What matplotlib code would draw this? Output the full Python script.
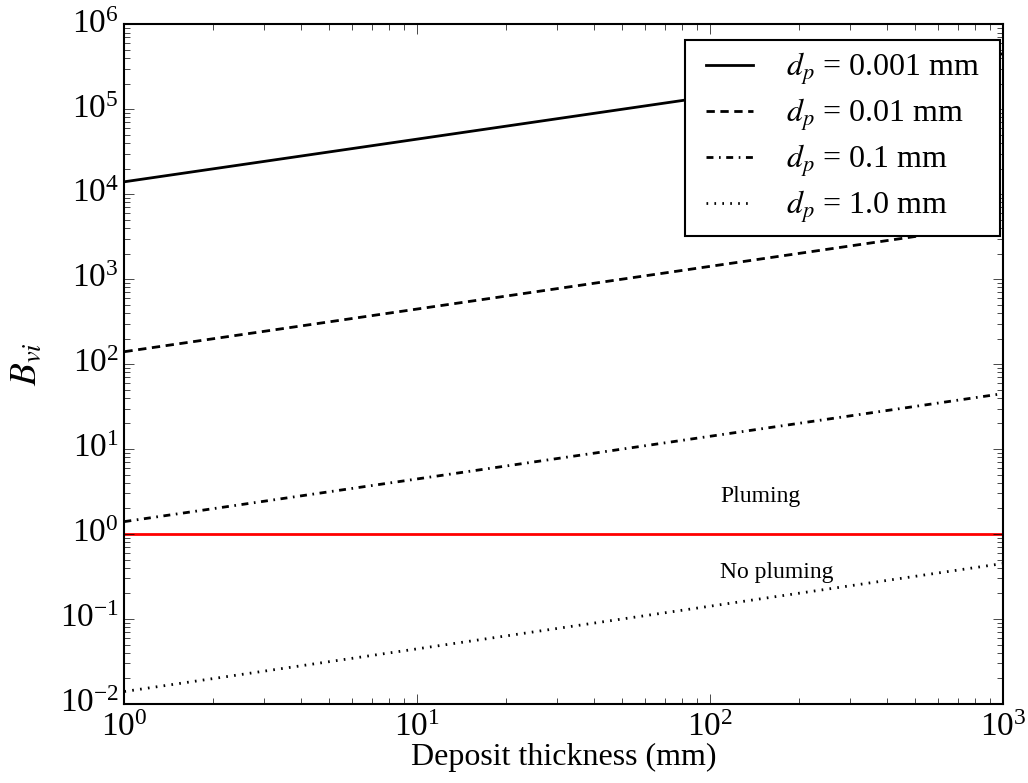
import numpy as np
import matplotlib
matplotlib.use("Agg")
import matplotlib.pyplot as plt

plt.style.use("classic")
plt.rcParams["font.family"] = "serif"
plt.rcParams["font.serif"] = ["Liberation Serif", "DejaVu Serif"]
plt.rcParams["mathtext.fontset"] = "stix"
plt.rcParams["xtick.major.size"] = 7
plt.rcParams["ytick.major.size"] = 7
plt.rcParams["xtick.minor.size"] = 4
plt.rcParams["ytick.minor.size"] = 4
plt.rcParams["axes.linewidth"] = 1.5

# deposit thickness (mm), end points of each curve
thickness = [1.0, 1000.0]

# B_vi for each particle diameter
b_0001 = [1.4e4, 4.5e5]
b_001 = [1.4e2, 4.5e3]
b_01 = [1.4, 45.0]
b_1 = [0.014, 0.45]

labels = [r"$d_p$ = 0.001 mm", r"$d_p$ = 0.01 mm", r"$d_p$ = 0.1 mm", r"$d_p$ = 1.0 mm"]
dashes = [None, (6, 4), (5, 4, 1.2, 4), (1.2, 4.5)]

fig, ax = plt.subplots(figsize=(10.28, 7.83), dpi=100)
fig.subplots_adjust(left=0.121, right=0.976, top=0.969, bottom=0.101)

for b, d, lab in zip([b_0001, b_001, b_01, b_1], dashes, labels):
    # trailing spaces give the legend box its wider right margin
    line, = ax.loglog(thickness, b, color="k", lw=2, label=lab + "  ")
    if d is not None:
        line.set_dashes(d)

ax.axhline(1.0, color="red", lw=2)
ax.text(108, 2.38, "Pluming", fontsize=17)
ax.text(108, 0.30, "No pluming", fontsize=17)

ax.set_xlim(1, 1e3)
ax.set_ylim(1e-2, 1e6)
ax.set_xlabel("Deposit thickness (mm)", fontsize=23, labelpad=0)
ax.set_ylabel(r"$B_{vi}$", fontsize=27, labelpad=11)
ax.tick_params(axis="both", which="major", labelsize=24, pad=6)
ax.tick_params(axis="y", which="major", pad=4)

leg = ax.legend(loc="upper right", bbox_to_anchor=(0.996, 0.977), borderaxespad=0,
                fontsize=23, handlelength=2.06, borderpad=0.35,
                labelspacing=0.3, handletextpad=0.75)
leg.get_frame().set_linewidth(1.5)

plt.savefig("out.png", dpi=100)
